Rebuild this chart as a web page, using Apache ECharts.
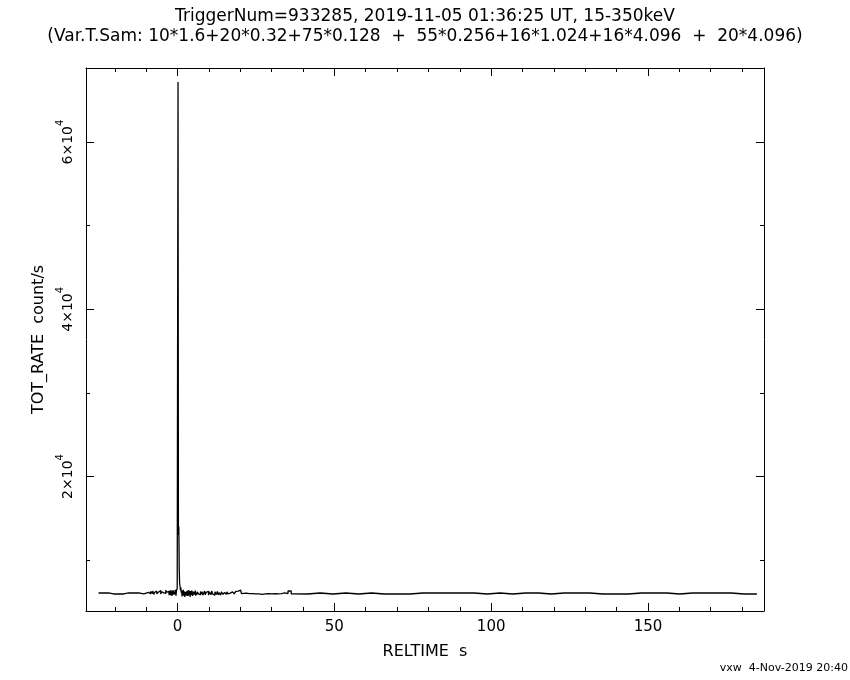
<!DOCTYPE html>
<html>
<head>
<meta charset="utf-8">
<script src="https://cdn.jsdelivr.net/npm/echarts@6/dist/echarts.min.js"></script>
<style>html,body{margin:0;padding:0;background:#fff;}#c{width:850px;height:680px;}</style>
</head>
<body>
<div id="c"></div>
<script>
// ---- data ----
const titleLine1 = 'TriggerNum=933285, 2019-11-05 01:36:25 UT, 15-350keV';
const titleLine2 = '(Var.T.Sam: 10*1.6+20*0.32+75*0.128  +  55*0.256+16*1.024+16*4.096  +  20*4.096)';
const footer = 'vxw  4-Nov-2019 20:40';
const xName = 'RELTIME  s';
const yName = 'TOT_RATE  count/s';
const startTime = -25.2;
// [number of bins, bin width (s)]
const sampling = [[10, 1.6], [20, 0.32], [75, 0.128], [55, 0.256], [16, 1.024], [36, 4.096]];
const rate1p6 = [6065, 6065, 5945, 5945, 5945, 6065, 6065, 6065, 5945, 6150];
const rate0p32 = [6180, 5950, 6240, 6010, 6300, 5900, 6150, 6280, 5980, 6200, 6100, 6350, 5940, 6220, 6080, 6300, 6010, 6400, 6150, 6260];
const rate0p128 = [6200, 5800, 6300, 5900, 6400, 5800, 6100, 6350, 5700, 6250, 6000, 6400, 5850, 6200, 6300, 5900, 6450, 6100, 5750, 6350, 6250, 6600, 6500,
  67200, 13000, 14000, 9000, 7200, 6900, 6400, 6700,
  6100, 6400, 5650, 6300, 5900, 6450, 5750, 6250, 6400, 5600, 6200, 6000, 6400, 5800, 6300, 5700, 6350, 6100, 5750, 6400, 5950, 6250, 5600, 6300, 6200, 5850, 6350, 6050, 5700, 6250, 6100, 6400, 5850, 6200, 5950, 6350, 5750, 6100, 6300, 5850, 6200, 6050, 6400, 5950];
const rate0p256 = [6100, 5850, 6250, 5950, 6200, 5800, 6050, 6300, 5850, 6150, 5950, 6250, 5800, 6200, 6050, 5850, 6300, 5950, 6150, 5800,
  6200, 6050, 5900, 6250, 5850, 6100, 5950, 5800, 6200, 6050, 5900, 5950, 6150, 6050, 5900, 6200, 5950, 6150, 6050, 6250,
  5950, 6200, 6050, 6100, 5950, 6150, 6250, 6350, 6300, 6450, 6500, 6400, 6300, 6000, 5900];
const rate1p024 = [6050, 6000, 6000, 5950, 5950, 5900, 5950, 6000, 5950, 6000, 5950, 6000, 6065, 5990, 6300, 5950];
const rate4p096 = [5945, 6065, 5945, 6065, 5945, 6065, 5945, 5945, 5945, 6065, 6065, 6065, 6065, 6065, 5945, 6065, 5945, 6065,
  6065, 5945, 6065, 6065, 6065, 5945, 5945, 5945, 6065, 6065, 6065, 5945, 6065, 6065, 6065, 6065, 5945, 5945];
const xRange = [-29.2, 187.0];
const yRange = [3910, 68860];
const xMajorTicks = [0, 50, 100, 150];
const xMinorTicks = [-20, -10, 10, 20, 30, 40, 60, 70, 80, 90, 110, 120, 130, 140, 160, 170, 180];
const yMajorTicks = [20000, 40000, 60000];
const yMinorTicks = [10000, 30000, 50000];

// ---- build step points from bins ----
const segments = [rate1p6, rate0p32, rate0p128, rate0p256, rate1p024, rate4p096];
const points = [];
let t = startTime;
segments.forEach((vals, i) => {
  const dt = sampling[i][1];
  vals.forEach(v => { points.push([t, v]); t += dt; });
});
points.push([t, rate4p096[rate4p096.length - 1]]);

const FONT = 'DejaVu Sans';
const black = '#000';
function xAx(pos, ticks, len, showLine, labels) {
  return {
    type: 'value', position: pos, min: xRange[0], max: xRange[1],
    axisLine: { show: showLine, onZero: false, lineStyle: { color: black, width: 1 } },
    axisTick: { show: true, inside: true, length: len, customValues: ticks, lineStyle: { color: black, width: 1 } },
    axisLabel: labels ? { show: true, customValues: xMajorTicks, color: black, fontFamily: FONT, fontSize: 15, margin: 9 } : { show: false },
    splitLine: { show: false },
    name: labels ? xName : '', nameLocation: 'middle', nameGap: 33,
    nameTextStyle: { color: black, fontFamily: FONT, fontSize: 16 }
  };
}
function yAx(pos, ticks, len, showLine, labels) {
  return {
    type: 'value', position: pos, min: yRange[0], max: yRange[1],
    axisLine: { show: showLine, onZero: false, lineStyle: { color: black, width: 1 } },
    axisTick: { show: true, inside: true, length: len, customValues: ticks, lineStyle: { color: black, width: 1 } },
    axisLabel: labels ? {
      show: true, customValues: yMajorTicks, rotate: 90, margin: 11,
      formatter: v => '{a|' + (v / 10000) + '×10}{b|4}',
      rich: {
        a: { color: black, fontFamily: FONT, fontSize: 14, lineHeight: 20, verticalAlign: 'bottom' },
        b: { color: black, fontFamily: FONT, fontSize: 10, lineHeight: 20, verticalAlign: 'top' }
      }
    } : { show: false },
    splitLine: { show: false },
    name: labels ? yName : '', nameLocation: 'middle', nameGap: 38,
    nameTextStyle: { color: black, fontFamily: FONT, fontSize: 16 }
  };
}

const chart = echarts.init(document.getElementById('c'), null, { renderer: 'canvas' });
chart.setOption({
  backgroundColor: '#fff',
  animation: false,
  title: [
    { text: titleLine1, left: 'center', top: 3, textStyle: { color: black, fontFamily: FONT, fontSize: 17, fontWeight: 'normal' } },
    { text: titleLine2, left: 'center', top: 23, textStyle: { color: black, fontFamily: FONT, fontSize: 17, fontWeight: 'normal' } }
  ],
  graphic: [
    { type: 'text', right: 2, top: 663, style: { text: footer, fill: black, font: '11px "DejaVu Sans"' } }
  ],
  grid: { left: 86, right: 86, top: 68, bottom: 69, containLabel: false },
  xAxis: [
    xAx('bottom', xMajorTicks, 8, true, true),
    xAx('bottom', xMinorTicks, 4, false, false),
    xAx('top', xMajorTicks, 8, true, false),
    xAx('top', xMinorTicks, 4, false, false)
  ],
  yAxis: [
    yAx('left', yMajorTicks, 8, true, true),
    yAx('left', yMinorTicks, 4, false, false),
    yAx('right', yMajorTicks, 8, true, false),
    yAx('right', yMinorTicks, 4, false, false)
  ],
  series: [{
    type: 'line', xAxisIndex: 0, yAxisIndex: 0, step: 'end', symbol: 'none',
    lineStyle: { color: black, width: 1.3 }, data: points, silent: true
  }]
});
</script>
</body>
</html>
